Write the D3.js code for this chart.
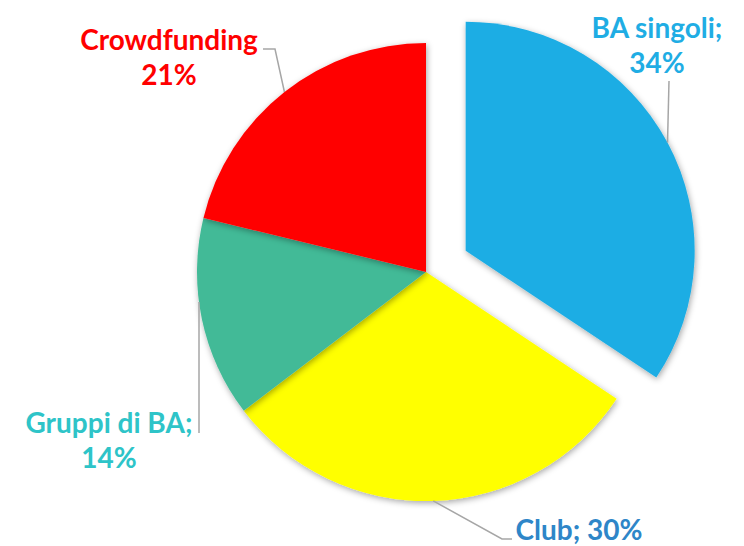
<!DOCTYPE html>
<html>
<head>
<meta charset="utf-8">
<script src="https://cdn.jsdelivr.net/npm/d3@7"></script>
<style>
  body { margin: 0; background: #fff; }
  svg text { font-family: Lato, "Open Sans", sans-serif; font-weight: bold; }
</style>
</head>
<body>
<svg id="chart" width="744" height="546"></svg>
<script>
// Dati della torta
const categories = ["BA singoli", "Club", "Gruppi di BA", "Crowdfunding"];
const values = [34, 30, 14, 21];
const sliceColors = ["#1FADE4", "#FFFF00", "#43BA97", "#FF0000"];
const labelColors = ["#1FADE4", "#2E86C8", "#2EC4C8", "#FF0000"];
const labelLines = [["BA singoli;", "34%"], ["Club; 30%"], ["Gruppi di BA;", "14%"], ["Crowdfunding", "21%"]];

const svg = d3.select("#chart");
const cx = 426, cy = 272, radius = 229;
const explode = [45, 0, 0, 0];

// ombra leggera come in Excel
const defs = svg.append("defs");
defs.append("filter")
    .attr("id", "shadow")
    .attr("x", "-20%").attr("y", "-20%")
    .attr("width", "140%").attr("height", "140%")
  .append("feDropShadow")
    .attr("dx", 1).attr("dy", 2)
    .attr("stdDeviation", 3)
    .attr("flood-color", "#000")
    .attr("flood-opacity", 0.35);

const pie = d3.pie().sort(null).value(d => d);
const arcs = pie(values);
const arc = d3.arc().innerRadius(0).outerRadius(radius);

const g = svg.append("g").attr("transform", `translate(${cx},${cy})`);

// punto sul bordo della fetta, all'angolo medio
function edgePoint(d, i) {
    const a = (d.startAngle + d.endAngle) / 2;
    const off = explode[i];
    return [Math.sin(a) * (radius + off), -Math.cos(a) * (radius + off)];
}

// posizione delle etichette (relativa al centro)
const labelPos = [[231, -234], [153, 268], [-317, 161], [-257, -222]];
const elbows = [
    p => [[243, -191], [p[0], p[1]]],
    p => [[86, 267], [76, 267], [p[0], p[1]]],
    p => [[-227, 161], [-227, 30]],
    p => [[-163, -223], [-151, -223], [p[0], p[1]]]
];

// linee guida (sotto la torta)
const lines = svg.append("g").attr("transform", `translate(${cx},${cy})`);
arcs.forEach((d, i) => {
    const p = edgePoint(d, i);
    lines.append("path")
        .attr("d", d3.line()(elbows[i](p)))
        .attr("fill", "none")
        .attr("stroke", "#A6A6A6")
        .attr("stroke-width", 1.5);
});

g.selectAll("path.slice")
    .data(arcs)
    .join("path")
    .attr("class", "slice")
    .attr("d", arc)
    .attr("fill", (d, i) => sliceColors[i])
    .attr("filter", "url(#shadow)")
    .attr("transform", (d, i) => {
        const a = (d.startAngle + d.endAngle) / 2;
        return `translate(${Math.sin(a) * explode[i]},${-Math.cos(a) * explode[i]})`;
    });

// etichette
const labels = svg.append("g").attr("transform", `translate(${cx},${cy})`);
labelLines.forEach((ls, i) => {
    const t = labels.append("text")
        .attr("x", labelPos[i][0])
        .attr("y", labelPos[i][1])
        .attr("text-anchor", "middle")
        .attr("fill", labelColors[i])
        .attr("font-size", "28px");
    ls.forEach((s, j) => {
        t.append("tspan")
            .attr("x", labelPos[i][0])
            .attr("dy", j === 0 ? 0 : 35)
            .text(s);
    });
});
</script>
</body>
</html>
